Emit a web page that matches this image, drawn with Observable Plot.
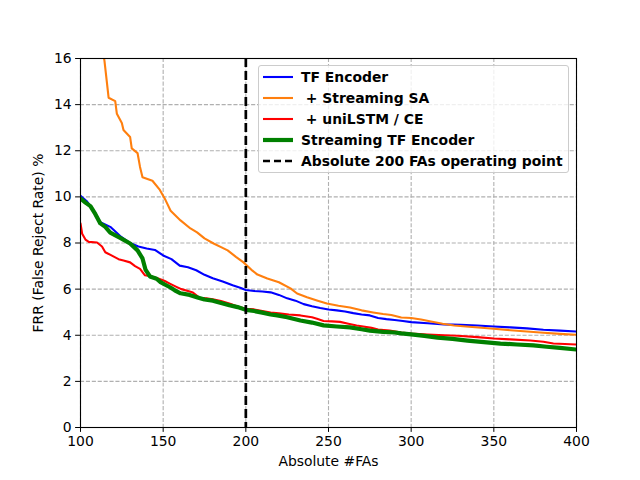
<!DOCTYPE html>
<html>
<head>
<meta charset="utf-8">
<script src="https://cdn.jsdelivr.net/npm/d3@7"></script>
<script src="https://cdn.jsdelivr.net/npm/@observablehq/plot@0.6"></script>
<style>
  html, body { margin: 0; padding: 0; background: #fff; }
  #wrap { position: relative; width: 640px; height: 480px; font-family: "DejaVu Sans", sans-serif; }
  #legend { position: absolute; left: 258px; top: 65px; width: 309px; height: 106px;
    background: rgba(255,255,255,0.8); border: 1px solid #cccccc; border-radius: 3px; box-sizing: content-box; }
  .row { position: absolute; left: 0; height: 20px; display: flex; align-items: center; }
  .row span { font-weight: bold; font-size: 13.9px; color: #000; white-space: pre; margin-left: 8px; }
</style>
</head>
<body>
<div id="wrap"></div>
<script>
const seriesNames = ["TF Encoder", " + Streaming SA", " + uniLSTM / CE", "Streaming TF Encoder"];
const operatingLabel = "Absolute 200 FAs operating point";
const operatingPoint = [200];
const xTicks = [100, 150, 200, 250, 300, 350, 400];
const yTicks = [0, 2, 4, 6, 8, 10, 12, 14, 16];

const blueFA = [100,104,108,112,118,124,130,135,140,145,150,155,160,165,170,175,180,186,192,197,200,205,210,215,220,225,230,235,240,245,250,255,260,265,270,275,280,285,290,295,300,310,320,330,340,350,360,370,380,390,400];
const blueFRR = [10.05,9.8,9.4,8.9,8.7,8.3,8.0,7.85,7.76,7.7,7.46,7.3,7.02,6.95,6.82,6.62,6.47,6.33,6.17,6.05,5.96,5.92,5.9,5.86,5.75,5.6,5.5,5.35,5.26,5.18,5.12,5.08,5.03,4.96,4.9,4.86,4.75,4.7,4.66,4.62,4.57,4.52,4.47,4.45,4.42,4.38,4.34,4.3,4.24,4.2,4.16];

const orangeFA = [112,114.5,117,121,122,125,126,130,131,134.5,136,137.5,143.5,148,151.5,154.5,160.5,166.5,170.5,175,180.5,185,189,194,198.6,204,207,213,220,227,231,237,243,249,256,263,270,277,283,288,294,300,306,312,319,326,335,348,360,370,378,390,400];
const orangeFRR = [17,15.9,14.3,14.15,13.6,13.2,12.9,12.6,12.1,11.9,11.3,10.85,10.7,10.3,9.85,9.4,8.98,8.63,8.46,8.2,7.98,7.82,7.68,7.4,7.16,6.8,6.63,6.46,6.3,6.03,5.81,5.65,5.51,5.38,5.28,5.2,5.08,4.99,4.92,4.88,4.77,4.75,4.68,4.6,4.5,4.42,4.37,4.29,4.22,4.16,4.12,4.06,4.02];

const redFA = [100,101,103,105,110,113,115,119,123,126,130,133,136,139,143,147,151,154,158,161,165,168,172,176,180,185,190,195,200,205,210,215,220,226,233,240,243,247,252,257,262,267,271,276,280,287,294,300,310,320,328,340,350,360,372,380,386,393,400];
const redFRR = [8.85,8.4,8.15,8.05,8.02,7.85,7.6,7.45,7.3,7.24,7.16,7.0,6.88,6.6,6.55,6.46,6.35,6.24,6.1,6.0,5.92,5.85,5.62,5.6,5.56,5.48,5.38,5.25,5.15,5.12,5.05,4.98,4.95,4.9,4.86,4.78,4.72,4.62,4.6,4.58,4.5,4.42,4.38,4.32,4.25,4.2,4.12,4.07,4.03,4.0,3.98,3.92,3.86,3.82,3.77,3.72,3.64,3.62,3.6];

const greenFA = [100,103,106,109,112,115,118,124,130,134.5,137.5,139.3,142,146,148.4,151,154.4,157,160.5,166,170.8,175,180,185,190,195,200,205,210,215,219,225,233,240,247,255,263,270,275,283,290,294,300,308,316,325,334,344,354,364,374,382,390,400];
const greenFRR = [9.93,9.75,9.6,9.25,8.85,8.7,8.45,8.22,7.98,7.68,7.33,6.85,6.55,6.45,6.3,6.2,6.07,5.95,5.82,5.75,5.64,5.55,5.5,5.4,5.3,5.22,5.1,5.05,4.98,4.9,4.86,4.78,4.64,4.55,4.43,4.38,4.34,4.26,4.2,4.15,4.12,4.08,4.04,3.97,3.9,3.84,3.77,3.7,3.64,3.6,3.56,3.5,3.45,3.38];

const colors = ["#0000ff", "#ff7f0e", "#ff0000", "#008000"];
const widths = [2.1, 2.1, 2.1, 4.2];

const seriesFA = [blueFA, orangeFA, redFA, greenFA];
const seriesFRR = [blueFRR, orangeFRR, redFRR, greenFRR];
const table = seriesNames.map((name, i) => seriesFA[i].map((x, j) => ({name, x, y: seriesFRR[i][j]})));

const chart = Plot.plot({
  width: 640,
  height: 480,
  marginLeft: 80,
  marginRight: 64,
  marginTop: 58,
  marginBottom: 53,
  style: { fontFamily: "DejaVu Sans, sans-serif", fontSize: "13.9px", color: "#000", background: "#fff" },
  x: { domain: [100, 400], ticks: xTicks },
  y: { domain: [0, 16], ticks: yTicks },
  marks: [
    Plot.gridX(xTicks, { stroke: "#b0b0b0", strokeOpacity: 1, strokeDasharray: "4.1,1.8", strokeWidth: 1.1 }),
    Plot.gridY(yTicks, { stroke: "#b0b0b0", strokeOpacity: 1, strokeDasharray: "4.1,1.8", strokeWidth: 1.1 }),
    ...table.map((d, i) => Plot.line(d, { x: "x", y: "y", stroke: colors[i], strokeWidth: widths[i], clip: true })),
    Plot.ruleX(operatingPoint, { stroke: "#000", strokeWidth: 2.7, strokeDasharray: "9,4" }),
    Plot.frame({ stroke: "#000", strokeWidth: 1.1 }),
    Plot.axisX(xTicks, { tickSize: 4.9, tickPadding: 4, label: "Absolute #FAs", labelAnchor: "center", labelArrow: "none", labelOffset: 38, fontSize: "13.9px" }),
    Plot.axisY(yTicks, { tickSize: 4.9, tickPadding: 4, label: "FRR (False Reject Rate) %", labelAnchor: "center", labelArrow: "none", labelOffset: 47, fontSize: "13.9px" })
  ]
});

const wrap = document.getElementById("wrap");
wrap.appendChild(chart);

// legend overlay
const legend = document.createElement("div");
legend.id = "legend";
const items = seriesNames.map((n, i) => ({ label: n, color: colors[i], width: widths[i], dash: null }))
  .concat([{ label: operatingLabel, color: "#000", width: 2.7, dash: "7,4" }]);
const rowTops = [1, 22, 43, 64, 85];
items.forEach((it, i) => {
  const row = document.createElement("div");
  row.className = "row";
  row.style.top = rowTops[i] + "px";
  row.style.left = "4px";
  const svg = d3.create("svg").attr("width", 30).attr("height", 20);
  svg.append("line").attr("x1", 0).attr("x2", 30).attr("y1", 10).attr("y2", 10)
    .attr("stroke", it.color).attr("stroke-width", it.width)
    .attr("stroke-dasharray", it.dash);
  row.appendChild(svg.node());
  const span = document.createElement("span");
  span.textContent = it.label;
  row.appendChild(span);
  legend.appendChild(row);
});
wrap.appendChild(legend);
</script>
</body>
</html>
